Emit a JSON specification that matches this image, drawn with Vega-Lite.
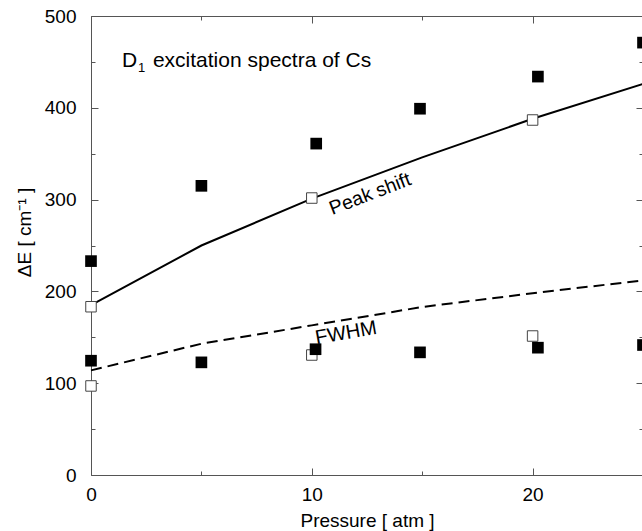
{
  "$schema": "https://vega.github.io/schema/vega-lite/v6.json",
  "width": 552,
  "height": 459,
  "autosize": {"type": "none"},
  "padding": {"left": 91, "top": 16, "right": 0, "bottom": 56},
  "background": "white",
  "config": {
    "view": {"stroke": null},
    "font": "Liberation Sans",
    "axis": {
      "domainColor": "#555555",
      "tickColor": "#555555",
      "labelColor": "black",
      "titleColor": "black",
      "labelFont": "Liberation Sans",
      "titleFont": "Liberation Sans",
      "labelFontSize": 19,
      "titleFontSize": 19,
      "titleFontWeight": "normal",
      "labelFlush": false,
      "labelOverlap": false,
      "grid": false,
      "tickWidth": 1,
      "domainWidth": 1
    }
  },
  "datasets": {
    "curves": [
      {"p": 0, "v": 185, "series": "Peak shift"},
      {"p": 5, "v": 250, "series": "Peak shift"},
      {"p": 10, "v": 301, "series": "Peak shift"},
      {"p": 15, "v": 346, "series": "Peak shift"},
      {"p": 20, "v": 388, "series": "Peak shift"},
      {"p": 25, "v": 426, "series": "Peak shift"},
      {"p": 0, "v": 114, "series": "FWHM"},
      {"p": 5, "v": 143, "series": "FWHM"},
      {"p": 10, "v": 163, "series": "FWHM"},
      {"p": 15, "v": 183, "series": "FWHM"},
      {"p": 20, "v": 198, "series": "FWHM"},
      {"p": 25, "v": 212, "series": "FWHM"}
    ],
    "points": [
      {"p": 0, "v": 233, "kind": "filled"},
      {"p": 5, "v": 315, "kind": "filled"},
      {"p": 10.2, "v": 361, "kind": "filled"},
      {"p": 14.9, "v": 399, "kind": "filled"},
      {"p": 20.24, "v": 434, "kind": "filled"},
      {"p": 25, "v": 471, "kind": "filled"},
      {"p": 0, "v": 124.5, "kind": "filled"},
      {"p": 5, "v": 122.7, "kind": "filled"},
      {"p": 10.17, "v": 137, "kind": "filled"},
      {"p": 14.9, "v": 133.6, "kind": "filled"},
      {"p": 20.24, "v": 138.7, "kind": "filled"},
      {"p": 25, "v": 141.6, "kind": "filled"},
      {"p": 0, "v": 183.3, "kind": "open"},
      {"p": 10, "v": 301.7, "kind": "open"},
      {"p": 20, "v": 386.7, "kind": "open"},
      {"p": 0, "v": 97, "kind": "open"},
      {"p": 10, "v": 130.7, "kind": "open"},
      {"p": 20, "v": 151.4, "kind": "open"}
    ]
  },
  "layer": [
    {
      "data": {"name": "curves"},
      "transform": [{"filter": "datum.series === 'Peak shift'"}],
      "mark": {"type": "line", "color": "black", "strokeWidth": 2},
      "encoding": {
        "x": {
          "field": "p", "type": "quantitative",
          "scale": {"domain": [0, 25], "nice": false},
          "axis": {
            "orient": "bottom",
            "title": "Pressure [ atm ]",
            "values": [0, 5, 10, 15, 20, 25],
            "labelExpr": "datum.value % 10 === 0 ? datum.label : ''",
            "tickSize": {"condition": {"test": "datum.value % 10 === 0", "value": -7}, "value": -4},
            "labelPadding": 17,
            "titlePadding": 4
          }
        },
        "y": {
          "field": "v", "type": "quantitative",
          "scale": {"domain": [0, 500], "nice": false},
          "axis": {
            "orient": "left",
            "title": "ΔE [ cm⁻¹ ]",
            "values": [0, 50, 100, 150, 200, 250, 300, 350, 400, 450, 500],
            "labelExpr": "datum.value % 100 === 0 ? datum.label : ''",
            "tickSize": {"condition": {"test": "datum.value % 100 === 0", "value": -7}, "value": -4},
            "labelPadding": 22,
            "titlePadding": 10,
            "titleY": 216
          }
        }
      }
    },
    {
      "data": {"name": "curves"},
      "transform": [{"filter": "datum.series === 'FWHM'"}],
      "mark": {"type": "line", "color": "black", "strokeWidth": 2, "strokeDash": [11, 6]},
      "encoding": {
        "x": {"field": "p", "type": "quantitative", "axis": null},
        "y": {"field": "v", "type": "quantitative", "axis": null}
      }
    },
    {
      "data": {"name": "points"},
      "transform": [{"filter": "datum.kind === 'open'"}],
      "mark": {"type": "point", "shape": "square", "filled": false, "fill": "white", "fillOpacity": 1, "stroke": "#444444", "strokeWidth": 1, "size": 110, "opacity": 1},
      "encoding": {
        "x": {
          "field": "p", "type": "quantitative",
          "axis": {
            "orient": "top", "title": null, "labels": false,
            "values": [0, 5, 10, 15, 20, 25],
            "tickSize": {"condition": {"test": "datum.value % 10 === 0", "value": -7}, "value": -4}
          }
        },
        "y": {
          "field": "v", "type": "quantitative",
          "axis": {
            "orient": "right", "title": null, "labels": false,
            "values": [0, 50, 100, 150, 200, 250, 300, 350, 400, 450, 500],
            "tickSize": {"condition": {"test": "datum.value % 100 === 0", "value": -7}, "value": -4}
          }
        }
      }
    },
    {
      "data": {"name": "points"},
      "transform": [{"filter": "datum.kind === 'filled'"}],
      "mark": {"type": "point", "shape": "square", "filled": true, "color": "black", "size": 136, "opacity": 1},
      "encoding": {
        "x": {"field": "p", "type": "quantitative", "axis": null},
        "y": {"field": "v", "type": "quantitative", "axis": null}
      }
    },
    {
      "data": {"values": [{"p": 1.4, "v": 444.4, "label": "D"}]},
      "mark": {"type": "text", "align": "left", "baseline": "alphabetic", "fontSize": 21, "font": "Liberation Sans", "color": "black"},
      "encoding": {
        "x": {"field": "p", "type": "quantitative", "axis": null},
        "y": {"field": "v", "type": "quantitative", "axis": null},
        "text": {"field": "label"}
      }
    },
    {
      "data": {"values": [{"p": 1.4, "v": 444.4, "label": "1"}]},
      "mark": {"type": "text", "align": "left", "baseline": "alphabetic", "fontSize": 13, "dx": 16, "dy": 5, "font": "Liberation Sans", "color": "black"},
      "encoding": {
        "x": {"field": "p", "type": "quantitative", "axis": null},
        "y": {"field": "v", "type": "quantitative", "axis": null},
        "text": {"field": "label"}
      }
    },
    {
      "data": {"values": [{"p": 1.4, "v": 444.4, "label": "excitation spectra of Cs"}]},
      "mark": {"type": "text", "align": "left", "baseline": "alphabetic", "fontSize": 21, "dx": 31, "font": "Liberation Sans", "color": "black"},
      "encoding": {
        "x": {"field": "p", "type": "quantitative", "axis": null},
        "y": {"field": "v", "type": "quantitative", "axis": null},
        "text": {"field": "label"}
      }
    },
    {
      "data": {"values": [{"p": 12.64, "v": 306, "label": "Peak shift"}]},
      "mark": {"type": "text", "align": "center", "baseline": "middle", "fontSize": 19.5, "angle": -21, "font": "Liberation Sans", "color": "black"},
      "encoding": {
        "x": {"field": "p", "type": "quantitative", "axis": null},
        "y": {"field": "v", "type": "quantitative", "axis": null},
        "text": {"field": "label"}
      }
    },
    {
      "data": {"values": [{"p": 11.55, "v": 154.7, "label": "FWHM"}]},
      "mark": {"type": "text", "align": "center", "baseline": "middle", "fontSize": 20, "angle": -10, "font": "Liberation Sans", "color": "black"},
      "encoding": {
        "x": {"field": "p", "type": "quantitative", "axis": null},
        "y": {"field": "v", "type": "quantitative", "axis": null},
        "text": {"field": "label"}
      }
    }
  ]
}
